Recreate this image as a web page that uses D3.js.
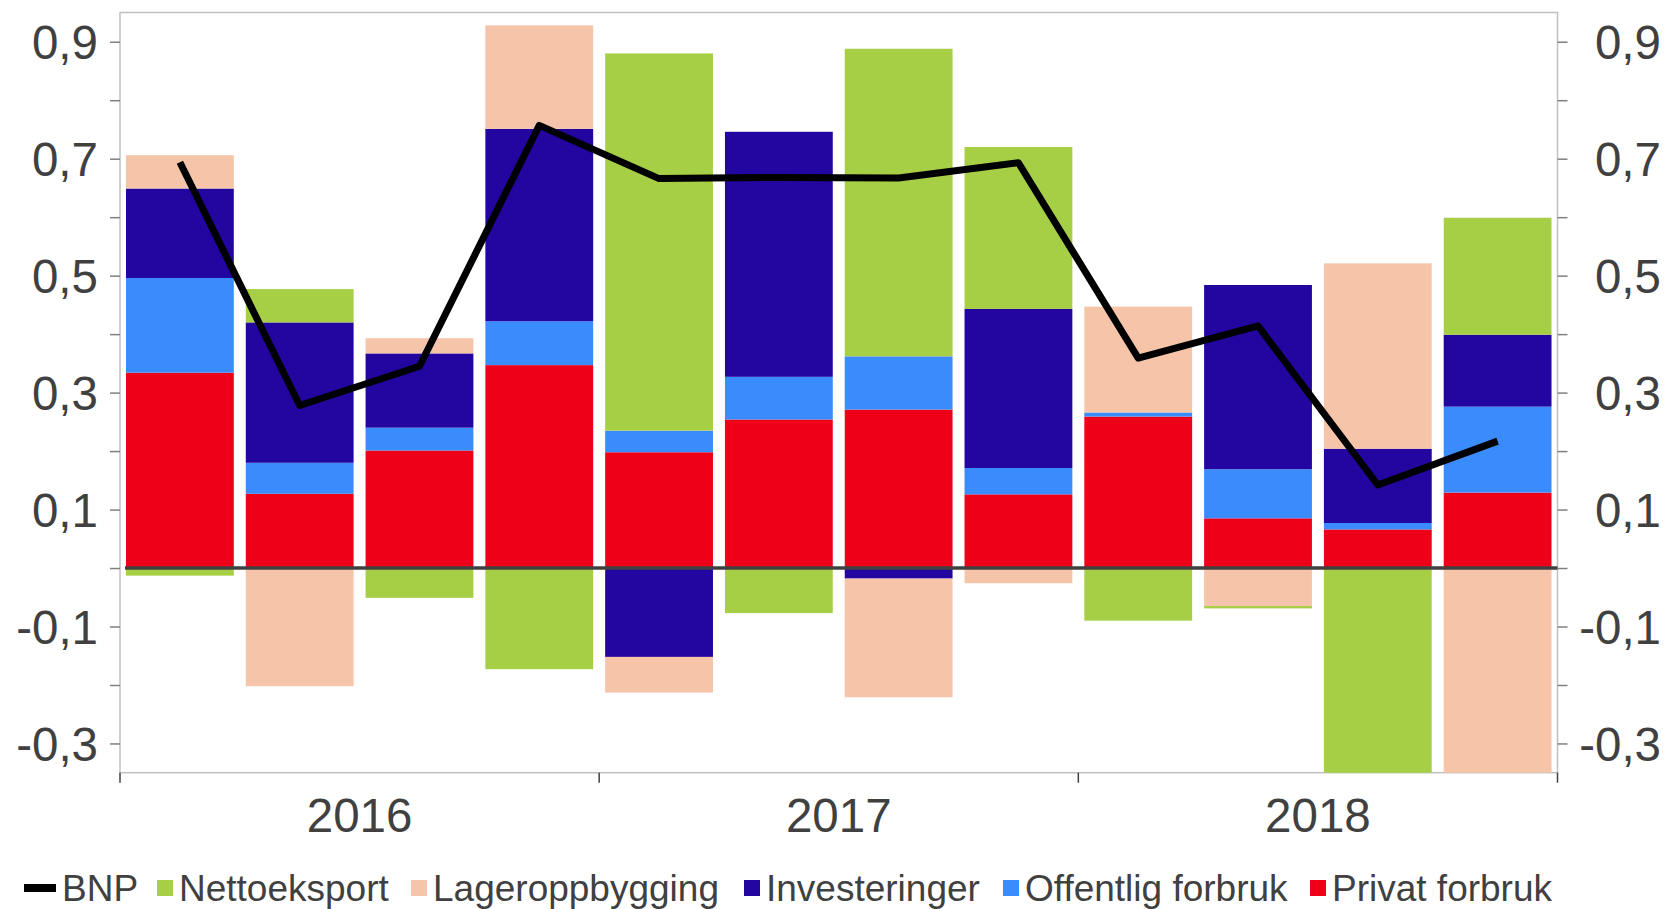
<!DOCTYPE html>
<html>
<head>
<meta charset="utf-8">
<script src="https://cdn.jsdelivr.net/npm/d3@7"></script>
<style>
  body { margin: 0; background: #fff; }
  svg text { font-family: "Liberation Sans", Arial, sans-serif; fill: #404040; }
</style>
</head>
<body>
<svg width="1667" height="909"></svg>
<script>
// --- data ---
var quarters = ["2016K1","2016K2","2016K3","2016K4","2017K1","2017K2","2017K3","2017K4","2018K1","2018K2","2018K3","2018K4"];
var years = ["2016", "2017", "2018"];

var privat     = [0.334, 0.127, 0.201, 0.347, 0.198, 0.254, 0.271, 0.126, 0.259, 0.085, 0.066, 0.129];
var offentlig  = [0.162, 0.053, 0.039, 0.075, 0.037, 0.073, 0.091, 0.045, 0.007, 0.084, 0.011, 0.147];
var invest     = [0.153, 0.240, 0.127, 0.329, -0.152, 0.419, -0.018, 0.272, 0.000, 0.315, 0.127, 0.123];
var lager      = [0.057, -0.202, 0.026, 0.177, -0.061, 0.000, -0.203, -0.026, 0.181, -0.065, 0.317, -0.382];
var netto      = [-0.013, 0.057, -0.051, -0.173, 0.645, -0.077, 0.526, 0.277, -0.090, -0.004, -0.379, 0.200];
var bnp        = [0.694, 0.278, 0.345, 0.757, 0.666, 0.668, 0.667, 0.693, 0.359, 0.414, 0.142, 0.217];

var yTicks  = [-0.3, -0.2, -0.1, 0, 0.1, 0.2, 0.3, 0.4, 0.5, 0.6, 0.7, 0.8, 0.9];
var yLabels = [-0.3, -0.1, 0.1, 0.3, 0.5, 0.7, 0.9];

var seriesNames = ["Privat forbruk", "Offentlig forbruk", "Investeringer", "Lageroppbygging", "Nettoeksport"];
var seriesColors = ["#ee0019", "#3a8bfb", "#2305a0", "#f6c5a9", "#a6cf46"];
var legendNames = ["BNP", "Nettoeksport", "Lageroppbygging", "Investeringer", "Offentlig forbruk", "Privat forbruk"];

// build rows for d3.stack
var rows = quarters.map(function(q, i) {
  return {
    q: q,
    "Privat forbruk": privat[i],
    "Offentlig forbruk": offentlig[i],
    "Investeringer": invest[i],
    "Lageroppbygging": lager[i],
    "Nettoeksport": netto[i]
  };
});

var svg = d3.select("svg");
var pLeft = 120, pRight = 1557.5, pTop = 12.5, pBottom = 772.7;

var x = d3.scaleBand().domain(quarters).range([pLeft, pRight]).paddingInner(0.1).paddingOuter(0.05);
var xYear = d3.scaleBand().domain(years).range([pLeft, pRight]);
var y = d3.scaleLinear().domain([-0.35, 0.95]).range([pBottom, pTop]);
var color = d3.scaleOrdinal().domain(seriesNames).range(seriesColors);

var nb = d3.formatLocale({decimal: ",", thousands: " ", grouping: [3], currency: ["", ""], minus: "-"}).format(".1f");

svg.append("clipPath").attr("id", "plot")
  .append("rect").attr("x", pLeft).attr("y", pTop).attr("width", pRight - pLeft).attr("height", pBottom - pTop);

// frame
svg.append("rect")
  .attr("x", pLeft).attr("y", pTop).attr("width", pRight - pLeft).attr("height", pBottom - pTop)
  .attr("fill", "none").attr("stroke", "#c0c0c0").attr("stroke-width", 1.5);

// bars
var stack = d3.stack().keys(seriesNames).offset(d3.stackOffsetDiverging);
var layers = stack(rows);

svg.append("g").attr("clip-path", "url(#plot)")
  .selectAll("g").data(layers).enter().append("g")
    .attr("fill", function(d) { return color(d.key); })
  .selectAll("rect").data(function(d) { return d; }).enter().append("rect")
    .attr("x", function(d) { return x(d.data.q); })
    .attr("width", x.bandwidth())
    .attr("y", function(d) { return y(Math.max(d[0], d[1])); })
    .attr("height", function(d) { return Math.abs(y(d[0]) - y(d[1])); });

// zero line
svg.append("line")
  .attr("x1", pLeft + 5).attr("x2", pRight)
  .attr("y1", y(0)).attr("y2", y(0))
  .attr("stroke", "#404040").attr("stroke-width", 3.5);

// BNP line
var line = d3.line()
  .x(function(d, i) { return x(quarters[i]) + x.bandwidth() / 2; })
  .y(function(d) { return y(d); });

svg.append("path").datum(bnp)
  .attr("d", line)
  .attr("fill", "none").attr("stroke", "#000").attr("stroke-width", 7)
  .attr("stroke-linejoin", "round");

// y axes
function fmt(d) { return yLabels.some(function(v) { return Math.abs(v - d) < 1e-9; }) ? nb(d) : ""; }

var gl = svg.append("g").attr("transform", "translate(" + pLeft + ",0)")
  .call(d3.axisLeft(y).tickValues(yTicks).tickSize(10).tickPadding(12).tickFormat(fmt));
var gr = svg.append("g").attr("transform", "translate(" + pRight + ",0)")
  .call(d3.axisRight(y).tickValues(yTicks).tickSize(10).tickFormat(fmt));

[gl, gr].forEach(function(g) {
  g.select(".domain").remove();
  g.selectAll(".tick line").attr("stroke", "#808080").attr("stroke-width", 1.5);
  g.selectAll(".tick text").style("font-size", "47.5px").attr("fill", "#404040").attr("dy", "0.35em");
});
gr.selectAll(".tick text").attr("text-anchor", "end").attr("x", 103.5);

// x axis (years)
var gx = svg.append("g").attr("transform", "translate(0," + pBottom + ")");
gx.selectAll("line").data(years.concat(["end"])).enter().append("line")
  .attr("x1", function(d) { return d == "end" ? pRight : xYear(d); })
  .attr("x2", function(d) { return d == "end" ? pRight : xYear(d); })
  .attr("y1", 0).attr("y2", 10)
  .attr("stroke", "#404040").attr("stroke-width", 1.5);
gx.selectAll("text").data(years).enter().append("text")
  .attr("x", function(d) { return xYear(d) + xYear.bandwidth() / 2; })
  .attr("y", 59)
  .attr("text-anchor", "middle")
  .style("font-size", "47.5px")
  .text(function(d) { return d; });

// legend
var legendX = [24, 157, 411, 744, 1003, 1310];
var legendY = 888;
var lg = svg.append("g").selectAll("g").data(legendNames).enter().append("g")
  .attr("transform", function(d, i) { return "translate(" + legendX[i] + "," + legendY + ")"; });

lg.each(function(d) {
  var g = d3.select(this);
  if (d == "BNP") {
    g.append("rect").attr("x", 0).attr("y", -4).attr("width", 32).attr("height", 8).attr("fill", "#000");
    g.append("text").attr("x", 38).attr("y", 12.5).style("font-size", "37px").text(d);
  } else {
    g.append("rect").attr("x", 0).attr("y", -8).attr("width", 16).attr("height", 16).attr("fill", color(d));
    g.append("text").attr("x", 22).attr("y", 12.5).style("font-size", "37px").text(d);
  }
});
</script>
</body>
</html>
